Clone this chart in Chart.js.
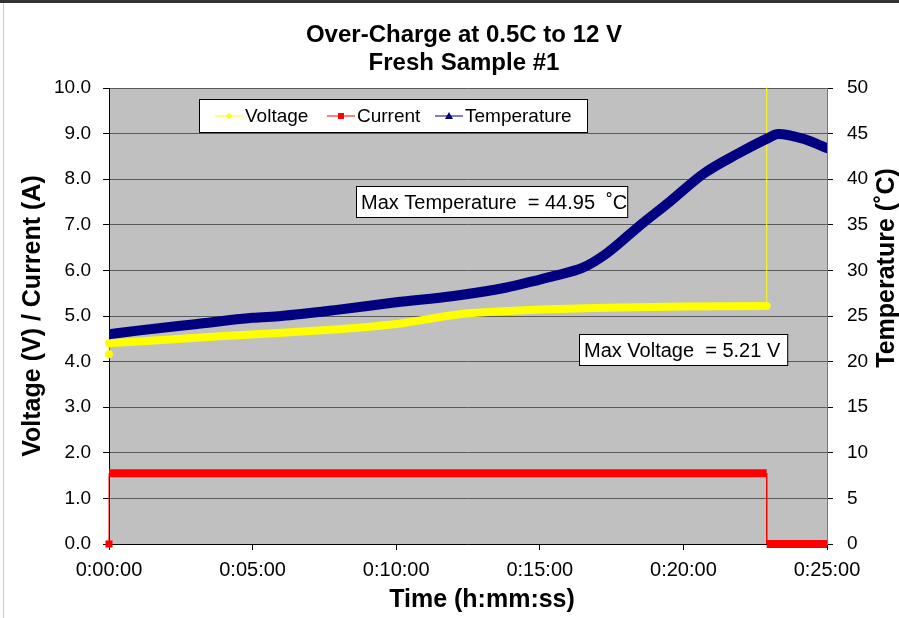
<!DOCTYPE html>
<html>
<head>
    <title>Over-Charge at 0.5C to 12 V</title>
    <script src="https://cdn.jsdelivr.net/npm/chart.js@4.4.1/dist/chart.umd.min.js"></script>
    <style>
        html, body {
            margin: 0;
            padding: 0;
            background: #fff;
        }
        #wrap {
            width: 899px;
            height: 618px;
        }
    </style>
</head>
<body>
    <div id="wrap"><canvas id="chart" width="899" height="618"></canvas></div>
    <script>
        // time in minutes
        const voltageTime   = [0, 0, 2, 4, 5.75, 8, 9, 10.1, 11, 11.75, 12.5, 13.2, 15, 17.3, 20, 22.9, 22.9, 25];
        const voltageValues = [4.16, 4.4, 4.48, 4.56, 4.62, 4.71, 4.76, 4.83, 4.92, 5.0, 5.06, 5.09, 5.14, 5.18, 5.21, 5.22, 12, 12];

        const currentTime   = [0, 0, 22.9, 22.9, 25];
        const currentValues = [0, 1.55, 1.55, 0, 0];

        const tempTime   = [0, 1, 3, 5, 6, 8, 10, 12, 13.8, 15, 15.5, 16.5, 17.3, 18.4, 19.55, 20.7, 21.9, 22.95, 23.3, 24.2, 25];
        const tempValues = [23.0, 23.4, 24.1, 24.8, 25.0, 25.7, 26.5, 27.2, 28.1, 29.0, 29.4, 30.3, 31.8, 34.7, 37.6, 40.6, 42.8, 44.5, 44.95, 44.4, 43.4];

        const timeTicks = [0, 5, 10, 15, 20, 25];
        const maxTemp = 44.95;
        const maxVoltage = 5.21;

        function pairs(xs, ys) {
            return xs.map((x, i) => ({ x: x, y: ys[i] }));
        }

        // thin line where the series jumps at a single time, thick elsewhere
        function segWidth(xs, thick) {
            return ctx => xs[ctx.p0DataIndex] === xs[ctx.p1DataIndex] ? 1 : thick;
        }

        function fmtTime(m) {
            return "0:" + String(m).padStart(2, "0") + ":00";
        }

        const FONT = "'Liberation Sans', Arial, sans-serif";

        const decor = {
            id: "decor",
            beforeDraw(chart) {
                const c = chart.ctx, a = chart.chartArea;
                c.save();
                c.fillStyle = "#fff";
                c.fillRect(0, 0, chart.width, chart.height);
                c.fillStyle = "#333";
                c.fillRect(0, 0, chart.width, 3);
                c.fillStyle = "#c8c8c8";
                c.fillRect(3, 3, 1, chart.height);
                c.fillStyle = "#c0c0c0";
                c.fillRect(a.left, a.top, a.right - a.left, a.bottom - a.top);
                c.restore();
            },
            afterDraw(chart) {
                const c = chart.ctx, a = chart.chartArea;
                const sx = chart.scales.x, sy = chart.scales.y, st = chart.scales.y2;
                c.save();
                c.fillStyle = "#000";
                c.textAlign = "center";
                c.textBaseline = "middle";

                // title
                const cx = (a.left + a.right) / 2 - 4;
                c.font = "bold 24px " + FONT;
                c.fillText("Over-Charge at 0.5C to 12 V", cx, 35);
                c.fillText("Fresh Sample #1", cx, 63);

                // axis titles
                c.font = "bold 25px " + FONT;
                c.fillText("Time (h:mm:ss)", cx + 18, 600);
                c.save();
                c.translate(33, (a.top + a.bottom) / 2);
                c.rotate(-Math.PI / 2);
                c.fillText("Voltage (V) / Current (A)", 0, 0);
                c.restore();
                c.save();
                c.translate(887, 268);
                c.rotate(-Math.PI / 2);
                c.fillText("Temperature (˚C)", 0, 0);
                c.restore();

                // legend box
                const lx = a.left + 90, ly = a.top + 11;
                c.fillStyle = "#fff";
                c.fillRect(lx, ly, 388, 33);
                c.strokeStyle = "#000";
                c.lineWidth = 1;
                c.strokeRect(lx + 0.5, ly + 0.5, 388, 33);
                const items = [
                    { label: "Voltage", color: "#ffff00", mark: "diamond", at: 16 },
                    { label: "Current", color: "#ff0000", mark: "square", at: 128 },
                    { label: "Temperature", color: "#000080", mark: "triangle", at: 236 }
                ];
                c.font = "19px " + FONT;
                c.textAlign = "left";
                items.forEach(it => {
                    const x0 = lx + it.at, yy = ly + 17;
                    c.strokeStyle = it.color;
                    c.beginPath();
                    c.moveTo(x0, yy);
                    c.lineTo(x0 + 28, yy);
                    c.stroke();
                    c.fillStyle = it.color;
                    const mx = x0 + 14;
                    c.beginPath();
                    if (it.mark === "diamond") {
                        c.moveTo(mx, yy - 3); c.lineTo(mx + 3, yy); c.lineTo(mx, yy + 3); c.lineTo(mx - 3, yy);
                    } else if (it.mark === "square") {
                        c.rect(mx - 3, yy - 3, 6, 6);
                    } else {
                        c.moveTo(mx, yy - 4); c.lineTo(mx + 4, yy + 3); c.lineTo(mx - 4, yy + 3);
                    }
                    c.closePath();
                    c.fill();
                    c.fillStyle = "#000";
                    c.fillText(it.label, x0 + 30, yy + 1);
                });

                // value call-outs, anchored in data units
                function callout(text, x, y, padR) {
                    c.font = "20px " + FONT;
                    const w = c.measureText(text).width + 5 + padR;
                    x = Math.round(x); y = Math.round(y);
                    c.fillStyle = "#fff";
                    c.fillRect(x, y, w, 31);
                    c.strokeStyle = "#000";
                    c.strokeRect(x + 0.5, y + 0.5, w, 31);
                    c.fillStyle = "#000";
                    c.textAlign = "left";
                    c.fillText(text, x + 5, y + 17);
                }
                callout("Max Temperature  = 44.95  ˚C".replace("44.95", maxTemp.toFixed(2)),
                    sx.getPixelForValue(8.6), st.getPixelForValue(39.3), 0);
                callout("Max Voltage  = " + maxVoltage.toFixed(2) + " V",
                    sx.getPixelForValue(16.35), sy.getPixelForValue(4.6), 7);
                c.restore();
            }
        };

        const ctx = document.getElementById("chart").getContext("2d");
        new Chart(ctx, {
            type: "line",
            data: {
                datasets: [
                    {
                        label: "Temperature",
                        data: pairs(tempTime, tempValues),
                        yAxisID: "y2",
                        borderColor: "#000080",
                        backgroundColor: "#000080",
                        borderWidth: 10,
                        borderCapStyle: "round",
                        borderJoinStyle: "round",
                        cubicInterpolationMode: "monotone",
                        pointRadius: 0
                    },
                    {
                        label: "Voltage",
                        data: pairs(voltageTime, voltageValues),
                        yAxisID: "y",
                        borderColor: "#ffff00",
                        backgroundColor: "#ffff00",
                        borderWidth: 8,
                        borderCapStyle: "round",
                        borderJoinStyle: "round",
                        segment: { borderWidth: segWidth(voltageTime, 8) },
                        pointRadius: ctx => ctx.dataIndex === 0 ? 4 : 0,
                        pointBorderWidth: 0,
                        clip: { left: 6, top: 0, right: 6, bottom: 6 }
                    },
                    {
                        label: "Current",
                        data: pairs(currentTime, currentValues),
                        yAxisID: "y",
                        borderColor: "#ff0000",
                        backgroundColor: "#ff0000",
                        borderWidth: 8,
                        borderCapStyle: "butt",
                        segment: { borderWidth: segWidth(currentTime, 8) },
                        pointStyle: "rect",
                        pointRadius: ctx => ctx.dataIndex === 0 ? 5 : 0,
                        pointBorderWidth: 0,
                        clip: 8
                    }
                ]
            },
            options: {
                responsive: false,
                animation: false,
                layout: { padding: { top: 88, left: 0, right: 0, bottom: 0 } },
                plugins: {
                    legend: { display: false },
                    title: { display: false },
                    tooltip: { enabled: false }
                },
                scales: {
                    x: {
                        type: "linear",
                        min: 0,
                        max: 25,
                        afterBuildTicks: s => { s.ticks = timeTicks.map(v => ({ value: v })); },
                        afterFit: s => { s.height = 74; },
                        ticks: {
                            callback: v => fmtTime(v),
                            color: "#000",
                            font: { family: FONT, size: 20 },
                            padding: 8,
                            maxRotation: 0
                        },
                        grid: { drawOnChartArea: false, tickLength: 6, color: "#000" },
                        border: { color: "#000" }
                    },
                    y: {
                        position: "left",
                        min: 0,
                        max: 10,
                        afterFit: s => { s.width = 109; },
                        ticks: {
                            stepSize: 1,
                            callback: v => v.toFixed(1),
                            color: "#000",
                            font: { family: FONT, size: 19 },
                            padding: 12
                        },
                        grid: { color: "#5a5a5a", tickColor: "#000", tickLength: 6 },
                        border: { color: "#000" }
                    },
                    y2: {
                        position: "right",
                        min: 0,
                        max: 50,
                        afterFit: s => { s.width = 72; },
                        ticks: {
                            stepSize: 5,
                            color: "#000",
                            font: { family: FONT, size: 19 },
                            padding: 14
                        },
                        grid: { drawOnChartArea: false, tickColor: "#000", tickLength: 6 },
                        border: { color: "#777" }
                    }
                }
            },
            plugins: [decor]
        });
    </script>
</body>
</html>
